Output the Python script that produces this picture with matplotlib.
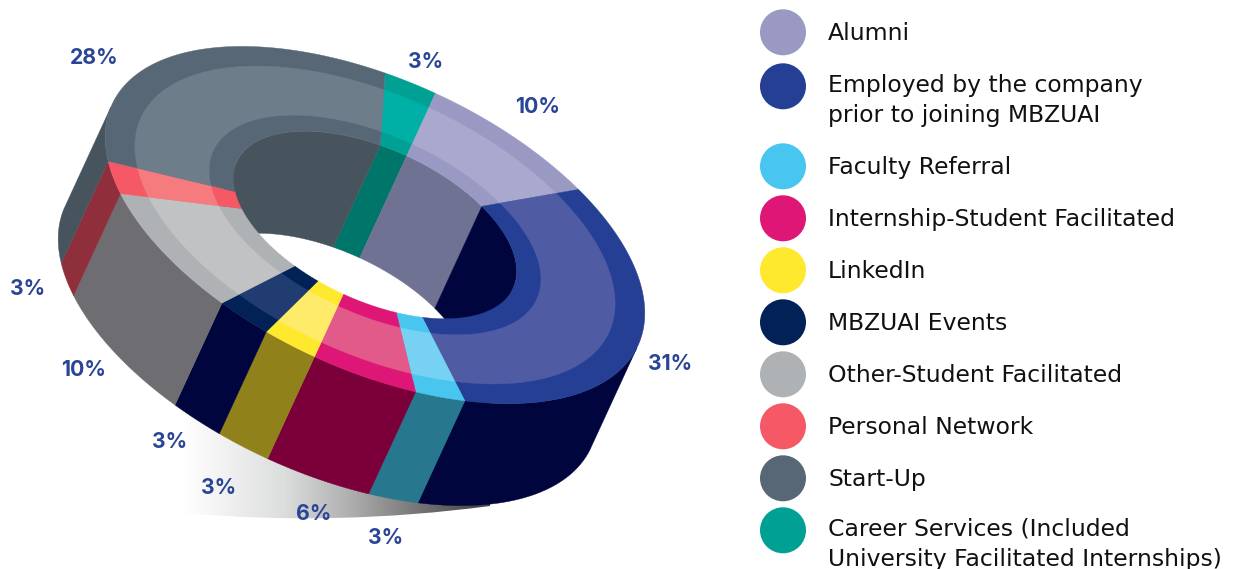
import numpy as np
import matplotlib
matplotlib.use("Agg")
import matplotlib.pyplot as plt
from matplotlib.patches import Polygon, Circle, PathPatch
from matplotlib.path import Path
from matplotlib.colors import LinearSegmentedColormap

# ---- data (clockwise order round the ring, starting at Career Services)
slice_names = ["Career Services", "Alumni", "Employed", "Faculty Referral", "Internship",
               "LinkedIn", "MBZUAI Events", "Other", "Personal Network", "Start-Up"]
slice_values = [3, 10, 31, 3, 6, 3, 3, 10, 3, 28]
slice_labels = ["3%", "10%", "31%", "3%", "6%", "3%", "3%", "10%", "3%", "28%"]

# ---- styles
band_colors = ["#00A194", "#9A99C4", "#243F94", "#48C6F0", "#DE1675",
               "#FFE92E", "#012157", "#AFB2B5", "#F55966", "#586776"]
face_colors = ["#00AFA5", "#A9A9CF", "#4F5CA4", "#77D1F2", "#E15A8A",
               "#FFEB6A", "#213C70", "#C0C2C4", "#F57B7E", "#6E7D8A"]
wall_colors = ["#00756A", "#707293", "#00053D", "#27788F", "#7B0039",
               "#91811B", "#00053D", "#6E6E72", "#8E2F3B", "#47545E"]
label_xy = [(425.5, 61.5), (537, 106.5), (670.5, 363.5), (385.5, 537.5), (313.5, 513.5),
            (218.5, 487.5), (169.5, 441.5), (84, 369.5), (27.5, 288.5), (94.5, 57.5)]

legend_lines = [["Alumni"], ["Employed by the company", "prior to joining MBZUAI"],
                ["Faculty Referral"], ["Internship-Student Facilitated"], ["LinkedIn"],
                ["MBZUAI Events"], ["Other-Student Facilitated"], ["Personal Network"],
                ["Start-Up"], ["Career Services (Included", "University Facilitated Internships)"]]
legend_colors = ["#9A99C4", "#243F94", "#48C6F0", "#DE1675", "#FFE92E",
                 "#012157", "#AFB2B5", "#F55966", "#586776", "#00A194"]
legend_y = [32, 86, 166, 218, 270, 322, 374, 426, 478, 530]

plt.rcParams["font.family"] = ["Inter", "DejaVu Sans"]

fig = plt.figure(figsize=(12.33, 5.69), dpi=100)
ax = fig.add_axes([0, 0, 1, 1])
ax.set_xlim(0, 1233)
ax.set_ylim(569, 0)
ax.axis("off")

# ---- projection of the ring plane onto the page
CENTER = np.array([375.0, 225.0])
AXES = np.array([[234.7, 133.1], [0.0, 178.6]])
DEPTH = np.array([-47.0, 102.0])
START = -58.3
R_IN, R_B1, R_B2 = 0.525, 0.615, 0.89


def proj(r, deg, depth=0.0):
    t = np.radians(deg)
    uv = np.vstack([r * np.cos(t), r * np.sin(t)])
    return (CENTER[:, None] + AXES @ uv + DEPTH[:, None] * depth).T


def poly(pts, color, z):
    ax.add_patch(Polygon(pts, closed=True, facecolor=color, edgecolor=color, lw=0.3, zorder=z))


d = np.linalg.solve(AXES, DEPTH)
edges = START + 360.0 * np.concatenate([[0], np.cumsum(slice_values)]) / np.sum(slice_values)

# ---- shadow under the ring
grad_cmap = LinearSegmentedColormap.from_list(
    "shade", [(0, "#FFFFFF"), (0.11, "#F4F4F4"), (0.33, "#DCDDDD"), (0.54, "#B0B0B0"),
              (0.76, "#777777"), (0.93, "#505050"), (1, "#444444")])
im = ax.imshow(np.linspace(0, 1, 256)[None, :], extent=(183, 490, 525, 380), cmap=grad_cmap,
               aspect="auto", zorder=1)
shadow = PathPatch(Path([(183, 513), (336, 526.5), (490, 506), (490, 380), (183, 380), (183, 513)],
                        [Path.MOVETO, Path.CURVE3, Path.CURVE3, Path.LINETO, Path.LINETO, Path.CLOSEPOLY]),
                   transform=ax.transData, facecolor="none", edgecolor="none")
ax.add_patch(shadow)
im.set_clip_path(shadow)
ax.set_xlim(0, 1233)
ax.set_ylim(569, 0)

# ---- walls and top surface
for i in range(len(slice_values)):
    th = np.linspace(edges[i], edges[i + 1], 80)
    c = np.cos(np.radians(th)) * d[0] + np.sin(np.radians(th)) * d[1]
    if (c > 0).sum() > 1:  # outer wall, front
        t = th[c > 0]
        poly(np.vstack([proj(1, t), proj(1, t[::-1], 1)]), wall_colors[i], 3)
    if (c < 0).sum() > 1:  # inner wall, far side of the hole
        t = th[c < 0]
        poly(np.vstack([proj(R_IN, t), proj(R_IN, t[::-1], 1)]), wall_colors[i], 2)
for i in range(len(slice_values)):
    th = np.linspace(edges[i], edges[i + 1], 80)
    poly(np.vstack([proj(1, th), proj(R_IN, th[::-1])]), band_colors[i], 4)
    poly(np.vstack([proj(R_B2, th), proj(R_B1, th[::-1])]), face_colors[i], 5)

# ---- percent labels
for (x, y), s in zip(label_xy, slice_labels):
    ax.text(x, y, s, ha="center", va="center", fontsize=15.3, fontweight="bold", color="#2A4596", zorder=10)

# ---- legend
for y, col, lines in zip(legend_y, legend_colors, legend_lines):
    ax.add_patch(Circle((783, y + 0.3), 23, facecolor=col, edgecolor="none", zorder=6))
    base = y + 8 if len(lines) == 1 else y + 6
    for k, line in enumerate(lines):
        ax.text(828, base + 30 * k, line, ha="left", va="baseline", fontsize=16.9,
                family=["DejaVu Sans"], color="#111111", zorder=6, clip_on=True)

fig.savefig("out.png", dpi=100)
